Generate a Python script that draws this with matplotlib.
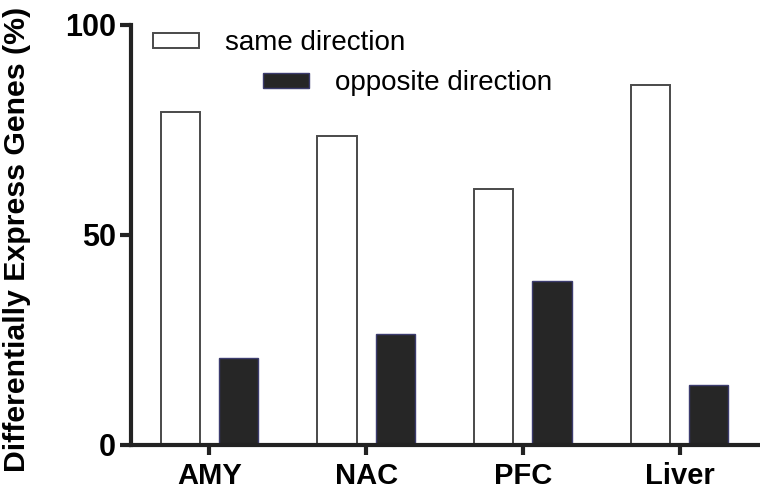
import numpy as np
import matplotlib.pyplot as plt
from matplotlib.patches import Patch

plt.rcParams['font.family'] = ['Liberation Sans', 'DejaVu Sans']

# data
regions = ["AMY", "NAC", "PFC", "Liver"]
same_dir = [79.3, 73.6, 61.0, 85.8]
opposite_dir = [20.7, 26.4, 39.0, 14.2]

fig = plt.figure(figsize=(7.6, 4.92), dpi=100)
ax = fig.add_axes([131/760, 1 - 445/492, (758 - 131)/760, (445 - 25)/492])

x = np.arange(len(regions))
w = 0.25
off = 0.186

ax.bar(x - off, same_dir, width=w, color="white", edgecolor="#4a4a4a", linewidth=1.4)
ax.bar(x + off, opposite_dir, width=w, color="#262626", edgecolor="#3c3c6e", linewidth=1.0)

ax.set_xlim(-0.5, 3.5)
ax.set_ylim(0, 100)
ax.set_xticks(x)
ax.set_xticklabels(regions, fontsize=21, fontweight="bold")
ax.set_yticks([0, 50, 100])
ax.set_yticklabels(["0", "50", "100"], fontsize=22, fontweight="bold")
ax.set_ylabel("Differentially Express Genes (%)", fontsize=21.8, fontweight="bold")
ax.yaxis.set_label_coords(-100/627, 0.49)

for s in ["top", "right"]:
    ax.spines[s].set_visible(False)
for s in ["left", "bottom"]:
    ax.spines[s].set_linewidth(3)
    ax.spines[s].set_color("#222222")
ax.tick_params(axis="both", width=3, length=8, color="#222222", pad=3)
ax.tick_params(axis="x", length=7, pad=5)

# two separate legend entries, staggered like the original
h1 = [Patch(facecolor="white", edgecolor="#4a4a4a", linewidth=1.4)]
h2 = [Patch(facecolor="#262626", edgecolor="#3c3c6e", linewidth=1.0)]
leg_kw = dict(frameon=False, fontsize=20, handlelength=1.65, handleheight=0.47,
              handletextpad=0.95, borderpad=0, borderaxespad=0, loc="center left",
              bbox_transform=fig.transFigure)
leg1 = ax.legend(h1, ["same direction"], bbox_to_anchor=(153/760, 1 - 43.5/492), **leg_kw)
ax.add_artist(leg1)
ax.legend(h2, ["opposite direction"], bbox_to_anchor=(263/760, 1 - 83.5/492), **leg_kw)

fig.savefig("out.png", dpi=100)
